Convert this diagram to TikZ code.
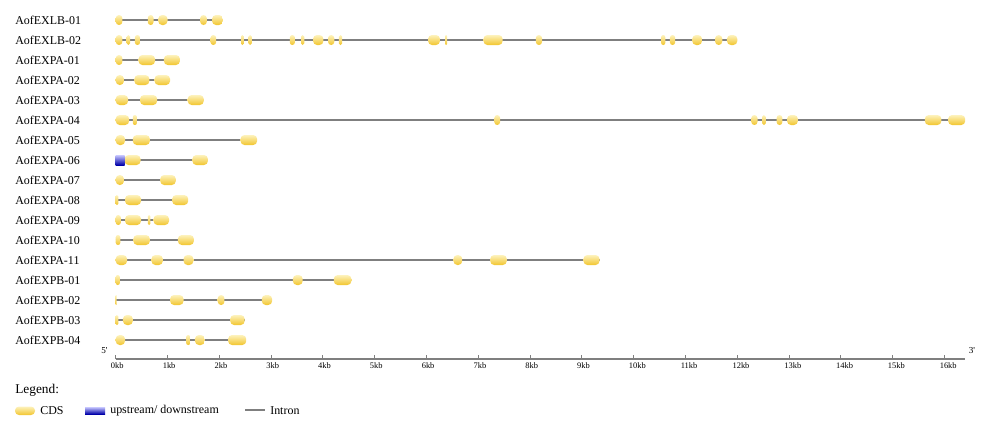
\documentclass[tikz,border=0pt]{standalone}
\usepackage{fontspec}
\setmainfont{Liberation Serif}
\definecolor{intron}{HTML}{7F7F7F}
\definecolor{cdstop}{HTML}{FDF2BC}
\definecolor{cdsmid}{HTML}{F8DD6C}
\definecolor{cdsbot}{HTML}{F2C52E}
\definecolor{utrtop}{HTML}{C8C8FF}
\definecolor{utrmid}{HTML}{3C3CE6}
\definecolor{utrbot}{HTML}{0000A8}
\tikzset{
  cds/.style={top color=cdstop,middle color=cdsmid,bottom color=cdsbot},
  utr/.style={top color=utrtop,middle color=utrmid,bottom color=utrbot},
  intronline/.style={draw=intron,line width=1.4pt},
  genelabel/.style={anchor=west,inner sep=0pt,font=\fontsize{8.5}{10}\selectfont},
  kblabel/.style={anchor=west,inner sep=0pt,font=\fontsize{6}{7}\selectfont},
}
\newcommand{\kbx}[1]{115.7+51.8*(#1)}

\begin{document}
\begin{tikzpicture}[x=0.025cm,y=-0.025cm]
\useasboundingbox (0,0) rectangle (1000,430);
% genes: name / length (kb) / CDS from-to (kb)
\foreach \lab/\len/\exons [count=\i] in {
  AofEXLB-01/2.07/{0/0.13,0.62/0.73,0.82/1.00,1.63/1.76,1.86/2.07},
  AofEXLB-02/12.00/{0/0.13,0.21/0.28,0.37/0.47,1.83/1.94,2.42/2.47,2.56/2.63,3.36/3.46,3.58/3.64,3.81/4.01,4.10/4.22,4.31/4.37,6.03/6.26,6.36/6.40,7.10/7.47,8.11/8.23,10.53/10.61,10.70/10.80,11.13/11.32,11.57/11.71,11.80/12.00},
  AofEXPA-01/1.24/{0/0.13,0.44/0.76,0.93/1.24},
  AofEXPA-02/1.05/{0/0.16,0.36/0.65,0.75/1.05},
  AofEXPA-03/1.70/{0/0.24,0.47/0.80,1.39/1.70},
  AofEXPA-04/16.40/{0/0.26,0.33/0.41,7.31/7.42,12.27/12.39,12.48/12.55,12.76/12.87,12.96/13.17,15.62/15.94,16.07/16.40},
  AofEXPA-05/2.73/{0/0.18,0.33/0.66,2.41/2.73},
  AofEXPA-06/1.78/{0.17/0.48,1.48/1.78},
  AofEXPA-07/1.16/{0/0.16,0.86/1.16},
  AofEXPA-08/1.40/{0/0.05,0.18/0.49,1.09/1.40},
  AofEXPA-09/1.03/{0/0.10,0.18/0.49,0.62/0.67,0.73/1.03},
  AofEXPA-10/1.51/{0/0.09,0.34/0.66,1.20/1.51},
  AofEXPA-11/9.34/{0/0.22,0.69/0.91,1.31/1.50,6.52/6.69,7.23/7.55,9.03/9.34},
  AofEXPB-01/4.55/{0/0.08,3.42/3.61,4.21/4.55},
  AofEXPB-02/3.02/{0/0.02,1.05/1.31,1.97/2.10,2.82/3.02},
  AofEXPB-03/2.49/{0/0.05,0.14/0.33,2.21/2.49},
  AofEXPB-04/2.52/{0/0.18,1.36/1.44,1.53/1.72,2.17/2.52}}{
  \pgfmathsetmacro\y{20*\i}
  \node[genelabel] (g\i) at (15,\y) {\lab};
  \draw[intronline] ({\kbx{0}},\y) -- ({\kbx{\len}},\y);
  \foreach \a/\b in \exons {
    \pgfmathsetmacro\rc{min(2.8,18.3*(\b-\a))}
    \shade[cds,rounded corners=\rc pt] ({\kbx{\a}},\y-5) rectangle ({\kbx{\b}},\y+5);
  }
}
\shade[utr] ({\kbx{0}},155) rectangle ({\kbx{0.17}},165);

% scale
\draw[intronline] ({\kbx{0}},359.3) -- (965,359.3);
\foreach \k in {0,...,16}{
  \draw[intron,line width=0.8pt] ({\kbx{\k}},359.3) -- ({\kbx{\k}},355);
  \node[kblabel] (kb\k) at ({\kbx{\k}-5},366) {\k kb};
}
\node[inner sep=0pt,font=\fontsize{6.5}{7}\selectfont] (end5) at (104.5,351) {5\textquotesingle};
\node[inner sep=0pt,font=\fontsize{6.5}{7}\selectfont] (end3) at (972,351) {3\textquotesingle};

% legend
\node[genelabel,font=\fontsize{9.5}{11}\selectfont] (legend) at (15,390) {Legend:};
\shade[cds,rounded corners=2.8pt] (15,406.5) rectangle (35,415);
\node[genelabel] (keycds) at (40,410.5) {CDS};
\shade[utr] (85,407) rectangle (105,414);
\node[genelabel] (keyutr) at (110,410.5) {upstream/ downstream};
\draw[intronline] (245,410) -- (265,410);
\node[genelabel] (keyintron) at (270,410.5) {Intron};
\end{tikzpicture}
\end{document}
